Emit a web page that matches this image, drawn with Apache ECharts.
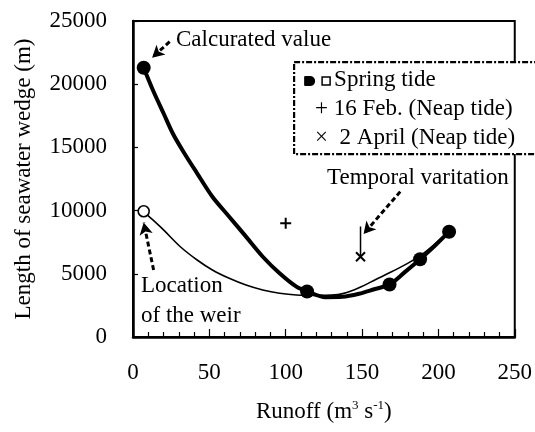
<!DOCTYPE html>
<html>
<head>
<meta charset="utf-8">
<script src="https://cdn.jsdelivr.net/npm/echarts@6/dist/echarts.min.js"></script>
<style>html,body{margin:0;padding:0;background:#fff}#c{width:535px;height:432px}</style>
</head>
<body>
<div id="c"></div>
<script>
// Calculated curve (spring tide), thick line
const calcCurve = [[7,21300],[13,19540],[20,17700],[26,16120],[33,14660],[42,12950],[52,11100],[63,9520],[74,7940],[85,6350],[96,5040],[107,3980],[114,3600],[126,3150],[137,3180],[148,3420],[158,3780],[168,4150],[178,5130],[188,6150],[198,7250],[207,8330]];
// Calculated points (filled circles)
const calcPoints = [[7,21300],[114,3600],[168,4150],[188,6150],[207,8330]];
// Thin curve from the weir location (open circle)
const weirCurve = [[7,9900],[13,9260],[20,8470],[31,7140],[42,6090],[52,5300],[63,4640],[74,4110],[85,3720],[96,3460],[107,3320],[120,3290],[130,3310],[138,3450],[148,3900],[159,4550],[170,5200],[181,5900],[190,6600],[199,7500],[207,8330]];
const weirPoint = [[7,9950]];
const feb16 = [[100,9000]];
const apr2 = [[149,6350]];
const temporalLine = [[149,6350],[149,8750]];
const xTicks = [0,250,50];
const yTicks = [0,25000,5000];

const FONT = '"Liberation Serif","Times New Roman",serif';
const FS = 23;
const chart = echarts.init(document.getElementById('c'));
const arrowLine = {type:[5,3], width:3, color:'#000'};
chart.setOption({
  animation:false,
  backgroundColor:'#fff',
  grid:{left:133, top:21, width:383, height:316, show:true, borderColor:'#000', borderWidth:2, backgroundColor:'transparent'},
  xAxis:{type:'value', min:xTicks[0], max:xTicks[1], interval:xTicks[2],
    axisLine:{show:true, onZero:false, lineStyle:{color:'#000', width:2.5}},
    axisTick:{show:true, inside:true, length:8, lineStyle:{color:'#000', width:1.2}},
    minorTick:{show:true, splitNumber:5, length:5, lineStyle:{color:'#000', width:1.2}},
    splitLine:{show:false},
    axisLabel:{color:'#000', fontFamily:FONT, fontSize:FS, margin:24, formatter:v=>String(v)},
    name:'{a|Runoff (m}{s|3}{a| s}{s|-1}{a|)}', nameLocation:'middle', nameGap:62,
    nameTextStyle:{rich:{a:{fontFamily:FONT, fontSize:FS, color:'#000'}, s:{fontFamily:FONT, fontSize:13, color:'#000', verticalAlign:'top', padding:[0,0,12,0]}}}
  },
  yAxis:{type:'value', min:yTicks[0], max:yTicks[1], interval:yTicks[2],
    axisLine:{show:true, lineStyle:{color:'#000', width:2.5}},
    axisTick:{show:true, inside:true, length:5, lineStyle:{color:'#000', width:1.2}},
    splitLine:{show:false},
    axisLabel:{color:'#000', fontFamily:FONT, fontSize:FS, margin:26, formatter:v=>String(v)},
    name:'Length of seawater wedge (m)', nameLocation:'middle', nameGap:98,
    nameTextStyle:{fontFamily:FONT, fontSize:FS, color:'#000'}
  },
  series:[
    {type:'line', data:weirCurve, smooth:0.35, showSymbol:false, lineStyle:{color:'#000', width:1.6}, z:2},
    {type:'line', data:calcCurve, smooth:0.3, showSymbol:false, lineStyle:{color:'#000', width:4}, z:3},
    {type:'scatter', data:calcPoints, symbol:'circle', symbolSize:14, itemStyle:{color:'#000', opacity:1}, z:4},
    {type:'scatter', data:weirPoint, symbol:'circle', symbolSize:11, itemStyle:{color:'#fff', borderColor:'#000', borderWidth:1.6, opacity:1}, z:4},
    {type:'scatter', data:feb16, symbol:'path://M5,0 L5,10 M0,5 L10,5', symbolSize:11, itemStyle:{color:'none', borderColor:'#000', borderWidth:2, opacity:1}, z:4},
    {type:'scatter', data:apr2, symbol:'path://M0,0 L10,10 M10,0 L0,10', symbolSize:9, itemStyle:{color:'none', borderColor:'#000', borderWidth:2, opacity:1}, z:4},
    {type:'line', data:temporalLine, showSymbol:false, lineStyle:{color:'#000', width:1.5}, z:4,
      markLine:{silent:true, symbol:['none','arrow'], symbolSize:[10,12], label:{show:false},
        lineStyle:arrowLine,
        data:[
          [{coord:[24,23360]},{coord:[12.5,22100]}],
          [{coord:[13.5,5300]},{coord:[7,9050]}],
          [{coord:[175,11500]},{coord:[151,8150]}]
        ]}
    }
  ],
  graphic:[
    {type:'text', left:176, top:28, style:{text:'Calcurated value', font:FS+'px '+FONT, fill:'#000'}, z:10},
    {type:'text', left:327, top:166, style:{text:'Temporal varitation', font:FS+'px '+FONT, fill:'#000'}, z:10},
    {type:'text', left:141, top:274, style:{text:'Location', font:FS+'px '+FONT, fill:'#000'}, z:10},
    {type:'text', left:141, top:304, style:{text:'of the weir', font:FS+'px '+FONT, fill:'#000'}, z:10},
    {type:'group', left:293, top:61, z:20, children:[
      {type:'rect', shape:{x:0, y:0, width:260, height:92}, style:{fill:'#fff', stroke:'#000', lineWidth:2.2, lineDash:[6,2,2,2]}},
      {type:'rect', shape:{x:10, y:14, width:11, height:10, r:[1,5,5,1]}, style:{fill:'#000'}},
      {type:'rect', shape:{x:28, y:15, width:8, height:8}, style:{fill:'#fff', stroke:'#000', lineWidth:1.5}},
      {type:'text', x:40, y:6, style:{text:'Spring tide', font:FS+'px '+FONT, fill:'#000'}},
      {type:'text', x:21, y:35, style:{text:'+ 16 Feb. (Neap tide)', font:FS+'px '+FONT, fill:'#000'}},
      {type:'text', x:21, y:64, style:{text:'×  2 April (Neap tide)', font:FS+'px '+FONT, fill:'#000'}}
    ]}
  ]
});
</script>
</body>
</html>
